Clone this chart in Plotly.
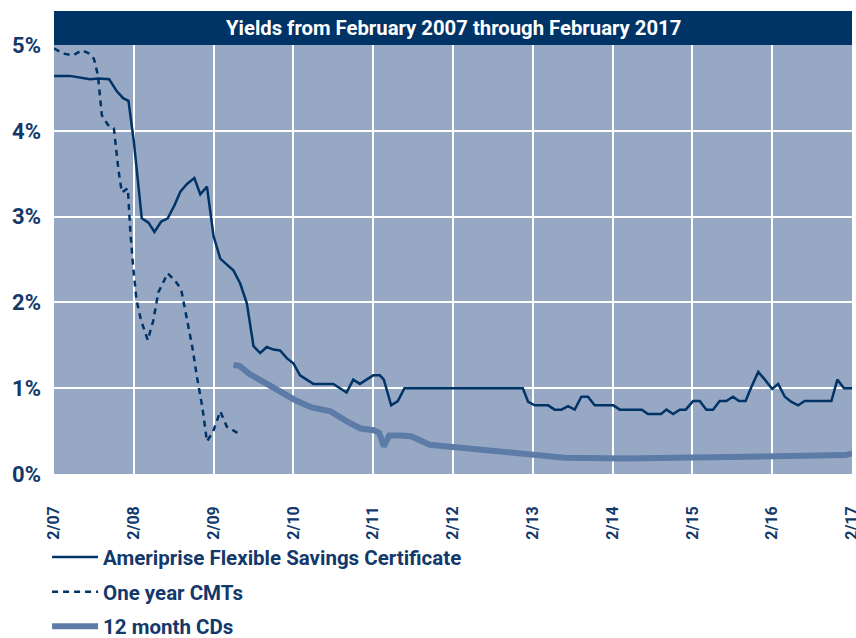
import plotly.graph_objects as go

# months counted from February 2007 (0) to February 2017 (120)
ameri_months = [0, 2.4, 5.4, 6.7, 8.3, 9.45, 10.4, 11.2, 12, 13.2, 14.2, 15.1, 16.1, 17.1, 18.1, 19, 20, 21.1, 22, 23,
                24, 25, 26, 27, 28, 29, 30, 31, 32, 33, 34, 35, 36, 37, 38, 39, 42, 43, 44, 45, 46, 47, 48, 49, 49.6,
                50.7, 51.7, 52.7, 70.5, 71.3, 72.3, 74.3, 75.3, 76.3, 77.3, 78.3, 79.3, 80.3, 81.3, 84.1, 85.1, 88.4,
                89.3, 91.3, 92.1, 93.1, 94.1, 95, 96.1, 97.1, 98.1, 99.1, 100.1, 101.1, 102.1, 103, 104, 104.9, 105.9,
                106.9, 108, 108.9, 109.9, 110.9, 111.9, 112.9, 116.9, 117.8, 118.8, 120]
ameri_yield = [4.64, 4.64, 4.60, 4.61, 4.60, 4.46, 4.38, 4.35, 3.88, 2.98, 2.93, 2.82, 2.94, 2.98, 3.13, 3.29, 3.38,
               3.45, 3.26, 3.35, 2.77, 2.51, 2.44, 2.37, 2.22, 1.99, 1.49, 1.41, 1.48, 1.45, 1.44, 1.35, 1.29, 1.15,
               1.10, 1.05, 1.05, 1.00, 0.95, 1.10, 1.05, 1.10, 1.15, 1.15, 1.10, 0.80, 0.85, 1.00, 1.00, 0.84, 0.80,
               0.80, 0.75, 0.75, 0.79, 0.75, 0.90, 0.90, 0.80, 0.80, 0.75, 0.75, 0.70, 0.70, 0.75, 0.70, 0.75, 0.75,
               0.85, 0.85, 0.75, 0.75, 0.85, 0.85, 0.90, 0.85, 0.85, 1.02, 1.19, 1.10, 0.99, 1.05, 0.90, 0.84, 0.80,
               0.85, 0.85, 1.10, 1.00, 1.00]

cmt_months = [0, 1.4, 2.9, 4.2, 5.3, 6.0, 6.6, 7.2, 8.1, 9.0, 9.7, 10.2, 11.1, 11.5, 11.9, 12.4, 13.1, 14.1, 14.9,
              15.7, 17.1, 18.1, 19.1, 20, 20.8, 21.5, 22.3, 23.0, 23.9, 25.0, 26.0, 27.8]
cmt_yield = [4.96, 4.90, 4.88, 4.94, 4.90, 4.84, 4.65, 4.18, 4.07, 4.03, 3.54, 3.28, 3.33, 2.80, 2.42, 2.03, 1.79,
             1.56, 1.78, 2.12, 2.34, 2.26, 2.16, 1.79, 1.48, 1.13, 0.78, 0.38, 0.49, 0.73, 0.55, 0.47]

cd_months = [27, 27.9, 29.3, 32.1, 34.6, 36.3, 38.6, 41.6, 44.1, 46.1, 48.1, 48.9, 49.6, 50.4, 52.2, 53.7, 56.5, 61.7,
             66.7, 71.8, 76.8, 85.8, 95, 104.9, 108.9, 119, 120]
cd_yield = [1.27, 1.26, 1.17, 1.04, 0.94, 0.86, 0.78, 0.73, 0.61, 0.53, 0.51, 0.48, 0.32, 0.45, 0.45, 0.44, 0.34, 0.30,
            0.27, 0.23, 0.19, 0.18, 0.19, 0.20, 0.22, 0.22, 0.24]

x_tickvals = [0, 12, 24, 36, 48, 60, 72, 84, 96, 108, 120]
x_ticktext = ["2/07", "2/08", "2/09", "2/10", "2/11", "2/12", "2/13", "2/14", "2/15", "2/16", "2/17"]
y_tickvals = [0, 1, 2, 3, 4, 5]
y_ticktext = ["0%", "1%", "2%", "3%", "4%", "5%"]

NAVY = "#003366"
TEXT = "#13386A"
CD_BLUE = "#5C7BA6"
FONT = "Roboto, sans-serif"

fig = go.Figure()
fig.add_trace(go.Scatter(x=ameri_months, y=ameri_yield, mode="lines",
                         name="<b>Ameriprise Flexible Savings Certificate</b>",
                         line=dict(color=NAVY, width=2.5), legendgroup="a"))
fig.add_trace(go.Scatter(x=cmt_months, y=cmt_yield, mode="lines", name="<b>One year CMTs</b>",
                         line=dict(color=NAVY, width=2.5, dash="6px,5px"), legendgroup="b"))
fig.add_trace(go.Scatter(x=cd_months, y=cd_yield, mode="lines", name="<b>12 month CDs</b>",
                         line=dict(color=CD_BLUE, width=6), legendgroup="c"))

# title band above the plot area
fig.add_shape(type="rect", xref="paper", yref="paper", x0=0, x1=1, y0=1, y1=1 + 34 / 429,
              fillcolor=NAVY, line=dict(width=0), layer="above")
fig.add_annotation(text="<b>Yields from February 2007 through February 2017</b>", xref="paper", yref="paper",
                   x=0.5, y=1 + 17 / 429, xanchor="center", yanchor="middle", showarrow=False,
                   font=dict(family=FONT, size=20.3, color="white"))

fig.update_layout(
    width=856, height=638,
    margin=dict(l=54, r=4, t=45, b=164, autoexpand=False),
    paper_bgcolor="white",
    plot_bgcolor="#97A8C5",
    font=dict(family=FONT, color=TEXT),
    showlegend=True,
    legend=dict(xref="container", yref="container", x=0.055, y=0.158, xanchor="left", yanchor="top",
                orientation="v", font=dict(family=FONT, size=20.5, color=TEXT), tracegroupgap=5,
                bgcolor="rgba(0,0,0,0)", itemwidth=46),
)
fig.update_xaxes(range=[0, 120], tickvals=x_tickvals, ticktext=[f"<b>{t}</b>" for t in x_ticktext],
                 tickangle=-90, tickfont=dict(family=FONT, size=16, color=TEXT),
                 showgrid=True, gridcolor="white", gridwidth=2, zeroline=False, showline=False,
                 ticks="", ticklabelstandoff=28, ticklabeloverflow="allow", automargin=False)
fig.update_yaxes(range=[0, 5], tickvals=y_tickvals, ticktext=[f"<b>{t}</b>" for t in y_ticktext],
                 tickfont=dict(family=FONT, size=22, color=TEXT),
                 showgrid=True, gridcolor="white", gridwidth=2, zeroline=False, showline=False,
                 ticks="", ticklabelstandoff=12, ticklabeloverflow="allow", automargin=False)

# the page body has a default 8px margin; drop it so the figure sits at the window's corner
fig.write_html("out.html", config={"displayModeBar": False},
               post_script="document.body.style.margin='0';")
